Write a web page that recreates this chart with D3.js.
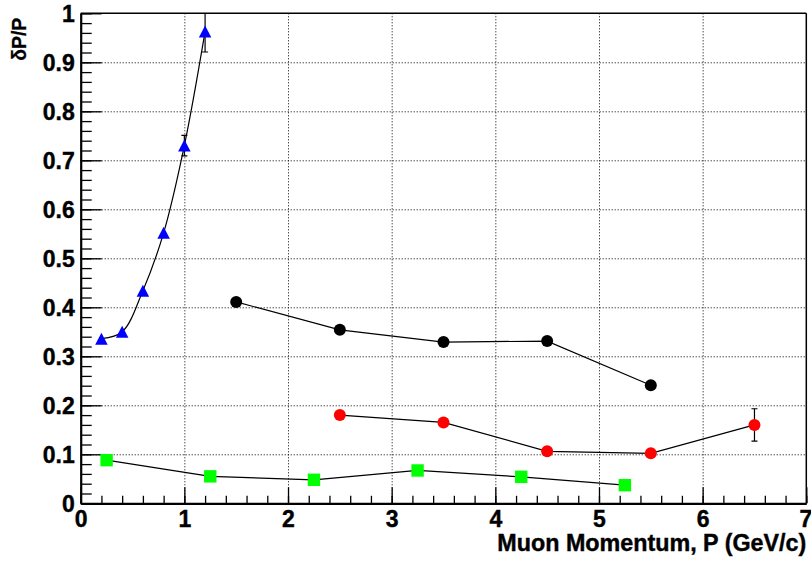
<!DOCTYPE html>
<html>
<head>
<meta charset="utf-8">
<script src="https://cdn.jsdelivr.net/npm/d3@7"></script>
<style>
  html, body { margin: 0; padding: 0; background: #fff; }
  svg { display: block; }
</style>
</head>
<body>
<svg id="chart" width="811" height="561"></svg>
<script>
// ---- data ----
const blueX = [0.2, 0.4, 0.6, 0.8, 1.0, 1.2];
const blueY = [0.336, 0.350, 0.434, 0.552, 0.730, 0.963];
const blueErr = [0, 0, 0, 0, 0.021, 0.042];

const blackX = [1.5, 2.5, 3.5, 4.5, 5.5];
const blackY = [0.411, 0.354, 0.329, 0.331, 0.241];
const blackErr = [0, 0, 0, 0, 0];

const redX = [2.5, 3.5, 4.5, 5.5, 6.5];
const redY = [0.180, 0.165, 0.106, 0.102, 0.160];
const redErr = [0, 0, 0, 0, 0.033];

const greenX = [0.25, 1.25, 2.25, 3.25, 4.25, 5.25];
const greenY = [0.088, 0.055, 0.048, 0.067, 0.054, 0.037];
const greenErr = [0, 0, 0, 0, 0, 0];

const xTicks = [0, 1, 2, 3, 4, 5, 6, 7];
const yTicks = [0, 0.1, 0.2, 0.3, 0.4, 0.5, 0.6, 0.7, 0.8, 0.9, 1];
const xTitle = "Muon Momentum, P (GeV/c)";
const yTitle = "δP/P";

// ---- layout ----
const FONT = "'Liberation Sans', Arial, Helvetica, sans-serif";
const L = 80.7, R = 806.3, T = 13.3, B = 503.3;
const svg = d3.select("#chart");
const x = d3.scaleLinear().domain([0, 7]).range([L, R]);
const y = d3.scaleLinear().domain([0, 1]).range([B, T]);

const xMinor = d3.range(0, 7.0001, 0.2).map(v => +v.toFixed(2));
const yMinor = d3.range(0, 1.0001, 0.02).map(v => +v.toFixed(3));
const fmt = d => String(+d.toFixed(1));

// grid
const gridX = svg.append("g").attr("transform", `translate(0,${B})`)
  .call(d3.axisBottom(x).tickValues(xTicks.slice(1, -1)).tickSize(-(B - T)).tickFormat(""));
gridX.select(".domain").remove();
gridX.selectAll("line").attr("stroke", "#000").attr("stroke-width", 1).attr("stroke-dasharray", "1,2");
const gridY = svg.append("g").attr("transform", `translate(${L},0)`)
  .call(d3.axisLeft(y).tickValues(yTicks.slice(1, -1)).tickSize(-(R - L)).tickFormat(""));
gridY.select(".domain").remove();
gridY.selectAll("line").attr("stroke", "#000").attr("stroke-width", 1).attr("stroke-dasharray", "1,2");

// frame top/right
svg.append("line").attr("x1", L).attr("x2", R).attr("y1", y(1)).attr("y2", y(1))
  .attr("stroke", "#000").attr("stroke-width", 1.5);
svg.append("line").attr("x1", x(7)).attr("x2", x(7)).attr("y1", T).attr("y2", B)
  .attr("stroke", "#000").attr("stroke-width", 1.5);

// minor ticks
const xm = svg.append("g").attr("transform", `translate(0,${B})`)
  .call(d3.axisBottom(x).tickValues(xMinor).tickSize(-7.5).tickFormat(""));
xm.select(".domain").remove();
xm.selectAll("line").attr("stroke-width", 1.3);
const ym = svg.append("g").attr("transform", `translate(${L},0)`)
  .call(d3.axisLeft(y).tickValues(yMinor).tickSize(-11).tickFormat(""));
ym.select(".domain").remove();
ym.selectAll("line").attr("stroke-width", 1.3);

// major axes
const xa = svg.append("g").attr("transform", `translate(0,${B})`)
  .call(d3.axisBottom(x).tickValues(xTicks).tickSize(-16).tickSizeOuter(0).tickPadding(7).tickFormat(fmt));
xa.attr("font-size", 23).attr("font-family", FONT).attr("font-weight", "bold");
xa.select(".domain").attr("stroke-width", 2.2);
xa.selectAll("line").attr("stroke-width", 1.3);
xa.selectAll("text").attr("fill", "#000").attr("stroke", "#000").attr("stroke-width", 0.4);
xa.selectAll("text").filter(d => d === 7).attr("dx", "-1");

const ya = svg.append("g").attr("transform", `translate(${L},0)`)
  .call(d3.axisLeft(y).tickValues(yTicks).tickSize(-21).tickSizeOuter(0).tickPadding(6).tickFormat(fmt));
ya.attr("font-size", 23).attr("font-family", FONT).attr("font-weight", "bold");
ya.select(".domain").attr("stroke-width", 2.2);
ya.selectAll("line").attr("stroke-width", 1.3);
ya.selectAll("text").attr("dy", "0.35em").attr("fill", "#000").attr("stroke", "#000").attr("stroke-width", 0.4);

// titles
svg.append("text").attr("x", R).attr("y", 551).attr("text-anchor", "end")
  .attr("font-family", FONT).attr("font-weight", "bold").attr("font-size", 23)
  .attr("stroke", "#000").attr("stroke-width", 0.4)
  .attr("textLength", 309).attr("lengthAdjust", "spacingAndGlyphs")
  .text(xTitle);
svg.append("text").attr("transform", "translate(26,17.7) rotate(-90)").attr("text-anchor", "end")
  .attr("font-family", FONT).attr("font-weight", "bold").attr("font-size", 20)
  .attr("stroke", "#000").attr("stroke-width", 0.3)
  .attr("textLength", 43).attr("lengthAdjust", "spacingAndGlyphs")
  .text(yTitle);

// clip
svg.append("clipPath").attr("id", "plotclip").append("rect")
  .attr("x", L).attr("y", T).attr("width", R - L).attr("height", B - T);
const plot = svg.append("g").attr("clip-path", "url(#plotclip)");

function series(xs, ys, errs, color, shape, curve) {
  const pts = xs.map((v, i) => ({ x: v, y: ys[i], e: errs[i] }));
  const line = d3.line().x(d => x(d.x)).y(d => y(d.y)).curve(curve);
  plot.append("path").datum(pts).attr("d", line).attr("fill", "none")
    .attr("stroke", "#000").attr("stroke-width", 1.2);
  const eb = plot.append("g").attr("stroke", "#000").attr("stroke-width", 1.2);
  pts.filter(d => d.e > 0).forEach(d => {
    eb.append("line").attr("x1", x(d.x)).attr("x2", x(d.x)).attr("y1", y(d.y - d.e)).attr("y2", y(d.y + d.e));
    [d.y - d.e, d.y + d.e].forEach(v => {
      eb.append("line").attr("x1", x(d.x) - 3).attr("x2", x(d.x) + 3).attr("y1", y(v)).attr("y2", y(v));
    });
  });
  const g = plot.append("g");
  pts.forEach(d => {
    const cx = x(d.x), cy = y(d.y);
    if (shape === "circle") {
      g.append("circle").attr("cx", cx).attr("cy", cy).attr("r", 6).attr("fill", color);
    } else if (shape === "square") {
      g.append("rect").attr("x", cx - 6.2).attr("y", cy - 6.2).attr("width", 12.4).attr("height", 12.4).attr("fill", color);
    } else {
      const h = 12, w = 12.5;
      g.append("path").attr("d", `M${cx},${cy - h / 2}L${cx + w / 2},${cy + h / 2}L${cx - w / 2},${cy + h / 2}Z`).attr("fill", color);
    }
  });
}

series(greenX, greenY, greenErr, "#00ff00", "square", d3.curveLinear);
series(redX, redY, redErr, "#ff0000", "circle", d3.curveLinear);
series(blackX, blackY, blackErr, "#000000", "circle", d3.curveLinear);
series(blueX, blueY, blueErr, "#0000ff", "triangle", d3.curveCatmullRom);
</script>
</body>
</html>
